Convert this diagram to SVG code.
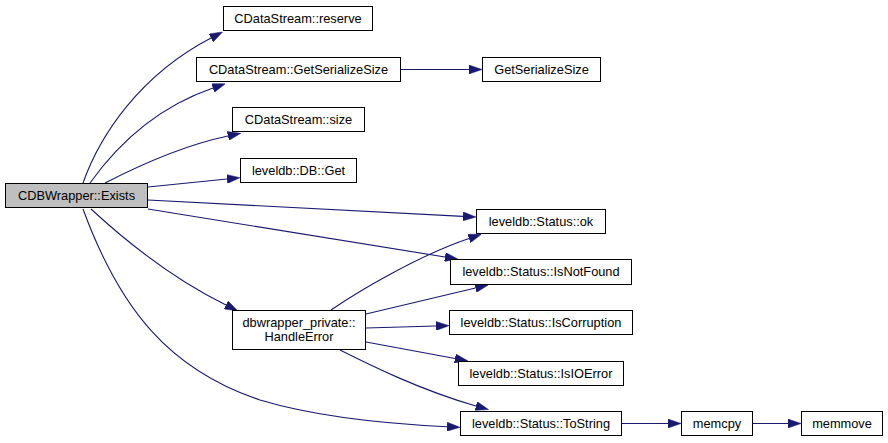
<svg xmlns="http://www.w3.org/2000/svg" width="888" height="443" viewBox="0 0 888 443">
<style>
.node rect{fill:#ffffff;stroke:#000000;stroke-width:1}
.node.cur rect{fill:#bfbfbf}
.node text{font-family:"Liberation Sans",Arial,sans-serif;font-size:12.8px;fill:#000000;text-anchor:middle}
.edge{fill:none;stroke:#191970;stroke-width:1.1}
</style>
<defs>
<marker id="arr" markerUnits="userSpaceOnUse" viewBox="0 0 13 9" refX="0" refY="4.5" markerWidth="13" markerHeight="9" orient="auto">
<polygon points="0,0 13,4.5 0,9" fill="#191970" stroke="#191970" stroke-width="0.5"/>
</marker>
</defs>
<rect width="888" height="443" fill="#ffffff"/>
<g id="connectors">
<path class="edge" marker-end="url(#arr)" d="M83,183 C100,135 140,75 211,38"/>
<path class="edge" marker-end="url(#arr)" d="M90,183 C115,148 155,108 213,88"/>
<path class="edge" marker-end="url(#arr)" d="M105,183 C140,165 185,145 228,136"/>
<path class="edge" marker-end="url(#arr)" d="M148,187 L227,179"/>
<path class="edge" marker-end="url(#arr)" d="M148,200 L463,216.4"/>
<path class="edge" marker-end="url(#arr)" d="M148,209 L445,257"/>
<path class="edge" marker-end="url(#arr)" d="M91,209 C130,245 175,280 226,305"/>
<path class="edge" marker-end="url(#arr)" d="M83,209 C120,310 170,370 260,400 C320,418 390,424 447,426.7"/>
<path class="edge" marker-end="url(#arr)" d="M401,69.5 L469,69.5"/>
<path class="edge" marker-end="url(#arr)" d="M331,310 C360,290 420,255 469,238.5"/>
<path class="edge" marker-end="url(#arr)" d="M366,314 L475.5,288"/>
<path class="edge" marker-end="url(#arr)" d="M366,328 L436,326"/>
<path class="edge" marker-end="url(#arr)" d="M366,342 L455,358.5"/>
<path class="edge" marker-end="url(#arr)" d="M340,350 C370,365 420,390 476,406"/>
<path class="edge" marker-end="url(#arr)" d="M622,423.5 L668,423.5"/>
<path class="edge" marker-end="url(#arr)" d="M753,423.5 L788,423.5"/>
</g>
<g id="n_exists" class="node cur"><rect x="5.5" y="183.5" width="142" height="24"/><text x="76.5" y="199.5">CDBWrapper::Exists</text></g>
<g id="n_reserve" class="node"><rect x="223.5" y="6.5" width="149" height="24"/><text x="298" y="22.5">CDataStream::reserve</text></g>
<g id="n_cgss" class="node"><rect x="196.5" y="57.5" width="204" height="24"/><text x="298.5" y="73.5">CDataStream::GetSerializeSize</text></g>
<g id="n_size" class="node"><rect x="232.5" y="107.5" width="132" height="24"/><text x="298.5" y="123.5">CDataStream::size</text></g>
<g id="n_get" class="node"><rect x="240.5" y="158.5" width="116" height="24"/><text x="298.5" y="174.5">leveldb::DB::Get</text></g>
<g id="n_gss" class="node"><rect x="482.5" y="57.5" width="118" height="24"/><text x="541.5" y="73.5">GetSerializeSize</text></g>
<g id="n_ok" class="node"><rect x="476.5" y="209.5" width="129" height="24"/><text x="541" y="225.5">leveldb::Status::ok</text></g>
<g id="n_notfound" class="node"><rect x="450.5" y="259.5" width="181" height="25"/><text x="541" y="276">leveldb::Status::IsNotFound</text></g>
<g id="n_corrupt" class="node"><rect x="449.5" y="310.5" width="183" height="24"/><text x="541" y="326.5">leveldb::Status::IsCorruption</text></g>
<g id="n_ioerr" class="node"><rect x="458.5" y="361.5" width="165" height="24"/><text x="541" y="377.5">leveldb::Status::IsIOError</text></g>
<g id="n_tostr" class="node"><rect x="460.5" y="411.5" width="161" height="24"/><text x="541" y="427.5">leveldb::Status::ToString</text></g>
<g id="n_memcpy" class="node"><rect x="681.5" y="411.5" width="71" height="24"/><text x="717" y="427.5">memcpy</text></g>
<g id="n_memmove" class="node"><rect x="801.5" y="411.5" width="81" height="24"/><text x="842" y="427.5">memmove</text></g>
<g id="n_handle" class="node"><rect x="232.5" y="310.5" width="133" height="39"/><text x="299" y="327">dbwrapper_private::</text><text x="299" y="341">HandleError</text></g>
</svg>
